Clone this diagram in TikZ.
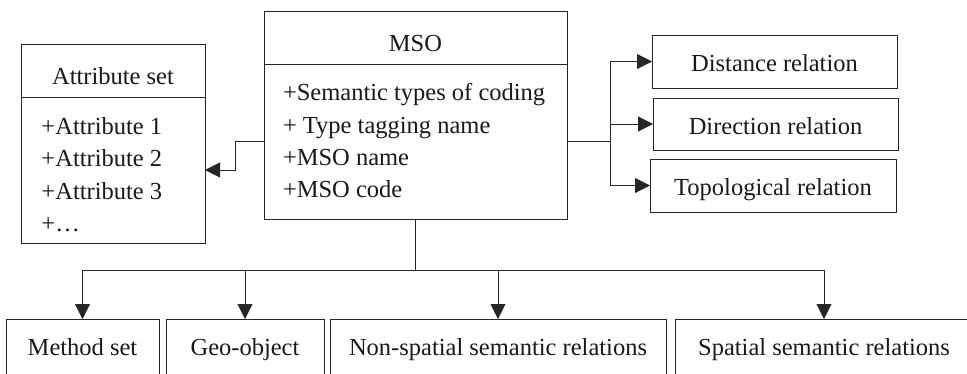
\documentclass[tikz,border=0pt]{standalone}
\usepackage{fontspec}
\setmainfont{Liberation Serif}
\usetikzlibrary{arrows.meta}
\begin{document}
\begin{tikzpicture}[x=1pt,y=-1pt,
  box/.style={draw=black!85,line width=1pt,inner sep=0pt,outer sep=0pt,anchor=north west,
    font=\fontsize{24.5}{32.3}\selectfont,text=black!90,text depth=0pt},
  headbox/.style={box,text height=27pt},
  relbox/.style={box,text height=20pt},
  lowbox/.style={box,text height=14pt},
  items/.style={anchor=north west,inner sep=0pt,outer sep=0pt,align=left,text=black!90,
    font=\fontsize{24.5}{32.3}\selectfont},
  conn/.style={draw=black!85,line width=0.9pt},
  arr/.style={conn,-{Triangle[length=15pt,width=15pt]}}]
\useasboundingbox (0,0) rectangle (967,373);
% Attribute set
\node[headbox,minimum width=184pt,minimum height=53pt] (attrhead) at (21,44) {Attribute set};
\node[box,minimum width=184pt,minimum height=146pt] (attrbody) at (21,97) {};
\node[items] (attritems) at (41.5,117.5) {+Attribute 1\\+Attribute 2\\+Attribute 3\\+\dots};
% MSO
\node[headbox,minimum width=303pt,minimum height=53pt] (msohead) at (264,11) {MSO};
\node[box,minimum width=303pt,minimum height=155pt] (msobody) at (264,64) {};
\node[items] (msoitems) at (283,83.5) {+Semantic types of coding\\+ Type tagging name\\+MSO name\\+MSO code};
% right relation boxes
\node[relbox,minimum width=245pt,minimum height=53pt] (dist) at (652,35) {Distance relation};
\node[relbox,minimum width=245pt,minimum height=52pt] (dir) at (653,98) {Direction relation};
\node[relbox,minimum width=246pt,minimum height=53pt] (topo) at (650,159) {Topological relation};
% bottom boxes
\node[lowbox,minimum width=153pt,minimum height=58pt] (method) at (6,319) {Method set};
\node[lowbox,minimum width=158pt,minimum height=58pt] (geo) at (166,319) {Geo-object};
\node[lowbox,minimum width=336pt,minimum height=58pt] (nonsp) at (330,319) {Non-spatial semantic relations};
\node[lowbox,minimum width=298pt,minimum height=58pt] (spat) at (675,319) {Spatial semantic relations};
% connectors
\draw[arr] (msobody.west) -- ++(-29,0) |- (attrbody.east);
\coordinate (rj) at ([xshift=43pt]msobody.east);
\draw[conn] (msobody.east) -- (rj);
\draw[arr] (rj) |- (dist.west);
\draw[arr] (rj) |- (dir.west);
\draw[arr] (rj) |- (topo.west);
\coordinate (bj) at ([yshift=-51pt]msobody.south);
\draw[conn] (msobody.south) -- (bj);
\draw[arr] (bj) -| (method.north);
\draw[arr] (bj) -| (geo.north);
\draw[arr] (bj) -| (nonsp.north);
\draw[arr] (bj) -| (spat.north);
\end{tikzpicture}
\end{document}
